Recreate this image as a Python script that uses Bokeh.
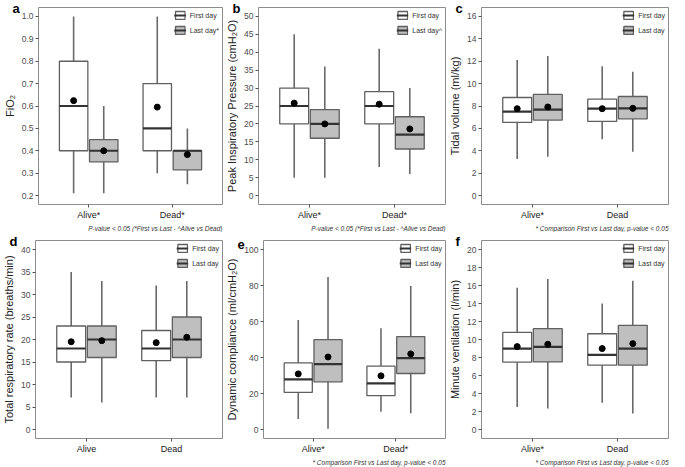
from bokeh.plotting import figure
from bokeh.layouts import column, row
from bokeh.models import (ColumnDataSource, Range1d, FixedTicker, Title,
                          Legend, LegendItem, NumeralTickFormatter)
from bokeh.embed import file_html
from bokeh.resources import INLINE

STATS = ["low", "q1", "median", "q3", "high", "mean"]
DAYS = ["First day", "Last day"]

# a: FiO2  (rows per group: low whisker, Q1, median, Q3, high whisker, mean)
fio2_groups = ["Alive*", "Dead*"]
fio2_first = [[0.21, 0.40, 0.60, 0.80, 1.00, 0.624],
              [0.30, 0.40, 0.50, 0.70, 1.00, 0.595]]
fio2_last = [[0.21, 0.35, 0.40, 0.45, 0.60, 0.400],
             [0.25, 0.315, 0.40, 0.40, 0.50, 0.383]]
fio2_ticks = [0.2, 0.3, 0.4, 0.5, 0.6, 0.7, 0.8, 0.9, 1.0]

# b: Peak inspiratory pressure
pip_groups = ["Alive*", "Dead*"]
pip_first = [[5, 20, 25, 30, 45, 25.8],
             [8, 20, 25, 29, 41, 25.5]]
pip_last = [[5, 16, 20, 24, 36, 20.0],
            [6, 13, 17, 22, 30, 18.6]]
pip_ticks = [0, 5, 10, 15, 20, 25, 30, 35, 40, 45, 50]

# c: Tidal volume
vt_groups = ["Alive*", "Dead"]
vt_first = [[3.26, 6.53, 7.50, 8.76, 12.10, 7.76],
            [5.03, 6.62, 7.76, 8.62, 11.56, 7.76]]
vt_last = [[3.47, 6.74, 7.68, 9.03, 12.47, 7.91],
           [3.91, 6.85, 7.79, 8.85, 11.06, 7.79]]
vt_ticks = [0, 2, 4, 6, 8, 10, 12, 14, 16]

# d: Total respiratory rate
rr_groups = ["Alive", "Dead"]
rr_first = [[7.1, 15.0, 18.0, 23.0, 35.0, 19.5],
            [7.1, 15.3, 18.0, 22.0, 32.0, 19.3]]
rr_last = [[6.0, 16.0, 20.0, 23.0, 33.0, 19.75],
           [7.1, 16.0, 20.0, 25.0, 33.0, 20.5]]
rr_ticks = [0, 5, 10, 15, 20, 25, 30, 35, 40]

# e: Dynamic compliance
cdyn_groups = ["Alive*", "Dead*"]
cdyn_first = [[5.9, 20.6, 27.8, 37.0, 60.8, 30.9],
              [9.9, 18.8, 25.6, 35.2, 56.2, 29.8]]
cdyn_last = [[0.4, 26.5, 36.3, 49.9, 84.7, 40.3],
             [9.0, 31.1, 39.6, 51.6, 79.7, 42.0]]
cdyn_ticks = [0, 20, 40, 60, 80, 100]

# f: Minute ventilation
ve_groups = ["Alive*", "Dead"]
ve_first = [[2.50, 7.48, 8.99, 10.79, 15.76, 9.21],
            [2.98, 7.15, 8.29, 10.64, 14.00, 8.99]]
ve_last = [[2.32, 7.51, 9.17, 11.20, 16.72, 9.47],
           [1.77, 7.15, 8.99, 11.57, 16.54, 9.54]]
ve_ticks = [0, 2, 4, 6, 8, 10, 12, 14, 16, 18, 20]

NOTE_AB = "P-value < 0.05 (*First vs Last - ^Alive vs Dead)"
NOTE_CMP = "* Comparison First vs Last day, p-value < 0.05"

FONT = "Liberation Sans"
BOX_LINE = "#606060"
WHISKER = "#6A6A6A"
MEDIAN = "#333333"
GRAY_FILL = "#BFBFBF"


def panel(letter, ylabel, groups, first, last, yr, ticks, legend_labels, note,
          width, height, top, bottom, fmt=None):
    p = figure(width=width, height=height, output_backend="svg", toolbar_location=None,
               x_range=Range1d(0.4, len(groups) + 0.6), y_range=Range1d(*yr),
               min_border_left=29, min_border_right=1, min_border_top=top,
               min_border_bottom=bottom, background_fill_color="white",
               border_fill_color="white")
    p.grid.visible = False
    p.outline_line_color = "#8C8C8C"
    p.outline_line_width = 1

    items = []
    for stats, fill, off, lab in [(first, "white", -0.18, legend_labels[0]),
                                  (last, GRAY_FILL, 0.18, legend_labels[1])]:
        cols = {s: [r[i] for r in stats] for i, s in enumerate(STATS)}
        xs = [i + 1 + off for i in range(len(groups))]
        cols["x"] = xs
        cols["xl"] = [x - 0.17 for x in xs]
        cols["xr"] = [x + 0.17 for x in xs]
        src = ColumnDataSource(cols)
        p.segment(x0="x", y0="low", x1="x", y1="q1", source=src,
                  line_color=WHISKER, line_width=1.6)
        p.segment(x0="x", y0="q3", x1="x", y1="high", source=src,
                  line_color=WHISKER, line_width=1.6)
        box = p.vbar(x="x", width=0.34, bottom="q1", top="q3", source=src,
                     fill_color=fill, line_color=BOX_LINE, line_width=1.3)
        med = p.segment(x0="xl", y0="median", x1="xr", y1="median", source=src,
                        line_color=MEDIAN, line_width=2.2)
        p.scatter(x="x", y="mean", source=src, size=6, color="black")
        items.append(LegendItem(label=lab, renderers=[box, med]))

    legend = Legend(items=items, location="top_right", label_text_font=FONT,
                    label_text_font_size="7px", label_text_color="#333333",
                    glyph_width=12, glyph_height=10, label_height=10,
                    spacing=5, padding=0, margin=8, border_line_color=None,
                    background_fill_alpha=0, label_standoff=4)
    legend.margin = 3
    legend.padding = 2
    p.add_layout(legend)

    yax = p.yaxis[0]
    yax.ticker = FixedTicker(ticks=ticks)
    if fmt:
        yax.formatter = NumeralTickFormatter(format=fmt)
    yax.axis_label = ylabel
    yax.axis_label_text_font = FONT
    yax.axis_label_text_font_size = "11px"
    yax.axis_label_text_font_style = "normal"
    yax.axis_label_text_color = "#222222"
    yax.axis_label_standoff = 3
    yax.major_label_text_font = FONT
    yax.major_label_text_font_size = "8.5px"
    yax.major_label_text_color = "#4D4D4D"
    yax.major_label_standoff = 2

    xax = p.xaxis[0]
    xax.ticker = FixedTicker(ticks=[i + 1 for i in range(len(groups))])
    xax.major_label_overrides = {i + 1: g for i, g in enumerate(groups)}
    xax.major_label_text_font = FONT
    xax.major_label_text_font_size = "9px"
    xax.major_label_text_color = "#222222"
    xax.major_label_standoff = 2

    for ax in (xax, yax):
        ax.axis_line_color = None
        ax.major_tick_line_color = "#555555"
        ax.major_tick_out = 3
        ax.major_tick_in = 0
        ax.minor_tick_line_color = None

    p.add_layout(Title(text=note, align="right", text_font=FONT,
                       text_font_size="6.5px", text_font_style="italic",
                       text_color="#333333", standoff=1), "below")

    # panel letter, pulled down beside the frame with a negative standoff
    p.add_layout(Title(text=letter, align="left", offset=-26, standoff=-16,
                       vertical_align="bottom", text_font=FONT,
                       text_font_size="13px", text_font_style="bold",
                       text_color="black"), "above")
    return p


W = 223
H1, H2 = 232, 235
pa = panel("a", "FiO₂", fio2_groups, fio2_first, fio2_last, (0.16, 1.04),
           fio2_ticks, ["First day", "Last day*"], NOTE_AB, W, H1, 7, 28, fmt="0.0")
pb = panel("b", "Peak Inspiratory Pressure (cmH₂O)", pip_groups, pip_first, pip_last,
           (-2.5, 52.5), pip_ticks, ["First day", "Last day^"], NOTE_AB, W, H1, 7, 28)
pc = panel("c", "Tidal volume (ml/kg)", vt_groups, vt_first, vt_last, (-0.8, 16.8),
           vt_ticks, DAYS, NOTE_CMP, W, H1, 7, 28)
pd_ = panel("d", "Total respiratory rate (breaths/min)", rr_groups, rr_first, rr_last,
            (-2, 42), rr_ticks, DAYS, " ", W, H2, 8, 29)
pe = panel("e", "Dynamic compliance (ml/cmH₂O)", cdyn_groups, cdyn_first, cdyn_last,
           (-5, 105), cdyn_ticks, DAYS, NOTE_CMP, W, H2, 8, 29)
pf = panel("f", "Minute ventilation (l/min)", ve_groups, ve_first, ve_last, (-1, 21),
           ve_ticks, DAYS, NOTE_CMP, W, H2, 8, 29)

layout = column(row(pa, pb, pc), row(pd_, pe, pf))
open("out.html", "w").write(file_html(layout, INLINE))
